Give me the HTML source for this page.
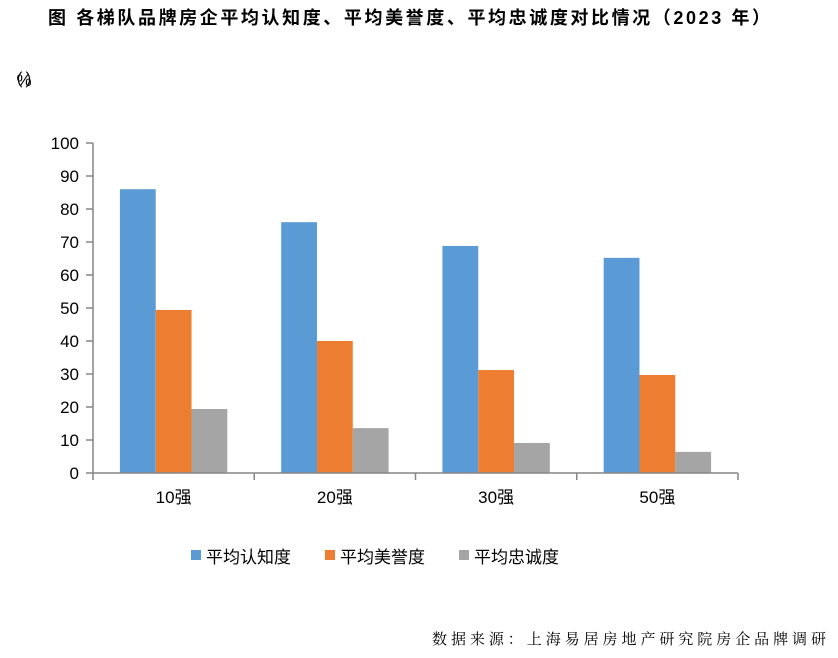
<!DOCTYPE html>
<html><head><meta charset="utf-8"><style>
body{margin:0;background:#fff;width:838px;height:653px;overflow:hidden;font-family:"Liberation Sans","Noto Sans CJK SC",sans-serif;}
</style></head><body>
<svg width="838" height="653" xmlns="http://www.w3.org/2000/svg">
<text x="48" y="24" font-size="18" font-weight="bold" fill="#000" textLength="722" lengthAdjust="spacing" font-family="Liberation Sans,Noto Sans CJK SC,sans-serif">图  各梯队品牌房企平均认知度、平均美誉度、平均忠诚度对比情况（2023 年）</text>
<text x="6" y="86" font-size="17" fill="#000" textLength="36" lengthAdjust="spacing" font-family="Liberation Sans,Noto Sans CJK SC,sans-serif">（%）</text>
<g id="plot"></g>
<g>
<rect x="191" y="550" width="10" height="10" fill="#5b9bd5"/>
<text x="206" y="563" font-size="17" fill="#000">平均认知度</text>
<rect x="325" y="550" width="10" height="10" fill="#ed7d31"/>
<text x="340" y="563" font-size="17" fill="#000">平均美誉度</text>
<rect x="459" y="550" width="10" height="10" fill="#a5a5a5"/>
<text x="474" y="563" font-size="17" fill="#000">平均忠诚度</text>
</g>
<text x="432" y="644" font-size="15" fill="#000" textLength="394" lengthAdjust="spacing" font-family="Liberation Serif,Noto Serif CJK SC,serif">数据来源：上海易居房地产研究院房企品牌调研</text>
</svg>
<script>
const categories=["10强","20强","30强","50强"];
const awareness=[86,76,68.8,65.2];
const reputation=[49.4,40,31.2,29.7];
const loyalty=[19.4,13.6,9.1,6.4];
const yTicks=[0,10,20,30,40,50,60,70,80,90,100];
const NS="http://www.w3.org/2000/svg";
const g=document.getElementById("plot");
const x0=93,x1=738,y0=473,y1=143;
const yS=v=>y0-(v/100)*(y0-y1);
const band=(x1-x0)/categories.length;
function mk(t,a){const e=document.createElementNS(NS,t);for(const k in a)e.setAttribute(k,a[k]);g.appendChild(e);return e;}
const series=[[awareness,"#5b9bd5","awareness"],[reputation,"#ed7d31","reputation"],[loyalty,"#a5a5a5","loyalty"]];
const bw=35.8;
categories.forEach((c,i)=>{
  const start=x0+i*band+band/2-1.5*bw;
  series.forEach((s,j)=>{
    const r=mk("rect",{x:start+j*bw,y:yS(s[0][i]),width:bw,height:y0-yS(s[0][i]),fill:s[1]});
    
    
  });
  const t=mk("text",{x:x0+i*band+band/2,y:503,"font-size":17,"text-anchor":"middle",fill:"#000"});
  t.textContent=c;
  
  
});
const ax=mk("line",{x1:x0,y1:y1,x2:x0,y2:y0,stroke:"#868686","stroke-width":1.5});


const xa=mk("line",{x1:x0,y1:y0,x2:x1,y2:y0,stroke:"#868686","stroke-width":1.5});


for(let i=0;i<=categories.length;i++){
  const tk=mk("line",{x1:x0+i*band,y1:y0,x2:x0+i*band,y2:y0+7,stroke:"#868686","stroke-width":1.5});
  
  
}
yTicks.forEach(v=>{
  const tk=mk("line",{x1:x0-7,y1:yS(v),x2:x0,y2:yS(v),stroke:"#868686","stroke-width":1.5});
  
  
  const t=mk("text",{x:79,y:yS(v)+6,"font-size":17,"text-anchor":"end",fill:"#000"});
  t.textContent=v;
  
  
});
</script>
</body></html>
